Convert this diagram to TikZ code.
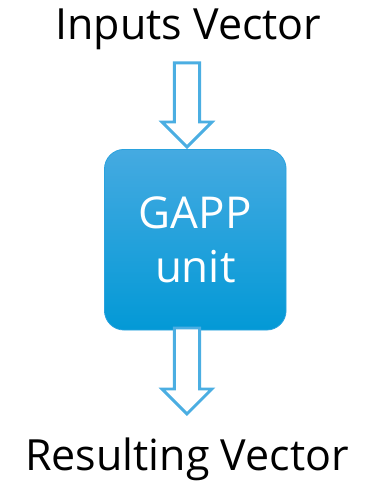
\documentclass[tikz,border=0pt]{standalone}
\usepackage{fontspec}
\setmainfont{Open Sans}
\usepackage{xcolor}
\usepackage{tikz}
\usetikzlibrary{
  arrows.meta,
  shapes,
  shapes.arrows,
  positioning,
  calc
}
\definecolor{gpTop}{HTML}{45AAE1}
\definecolor{gpBot}{HTML}{0399D6}
\definecolor{gpEdge}{HTML}{2AA2DE}
\definecolor{gpArrow}{HTML}{4BAEE2}
\tikzset{
  gappbox/.style={
    rounded corners=20pt, minimum width=186pt, minimum height=185pt,
    top color=gpTop, bottom color=gpBot, draw=gpEdge, line width=0.8pt,
    text=white, align=center, font=\fontsize{45}{55}\selectfont
  },
  blockarrow/.style={
    single arrow, draw=gpArrow, fill=white, line width=3pt,
    shape border rotate=270, inner xsep=11.5pt, inner ysep=0pt,
    single arrow head extend=12.5pt
  },
  vectag/.style={font=\fontsize{44}{50}\selectfont, inner sep=0pt, anchor=base}
}
\begin{document}
\begin{tikzpicture}
  \node[gappbox] (gapp) {GAPP\\unit};
  \node[blockarrow, minimum height=86pt, anchor=tip] (inarrow) at ([xshift=-8.5pt]gapp.north) {};
  \node[blockarrow, minimum height=88pt, anchor=tail] (outarrow) at ([xshift=-8.5pt,yshift=4pt]gapp.south) {};
  \node[vectag] (invec) at ([xshift=1.5pt,yshift=23pt]inarrow.tail) {Inputs Vector};
  \node[vectag] (outvec) at ([xshift=0pt,yshift=-56pt]outarrow.tip) {Resulting Vector};
  \useasboundingbox ([shift={(-200pt,-235.5pt)}]gapp.center) rectangle ([shift={(193pt,245.5pt)}]gapp.center);
\end{tikzpicture}
\end{document}
